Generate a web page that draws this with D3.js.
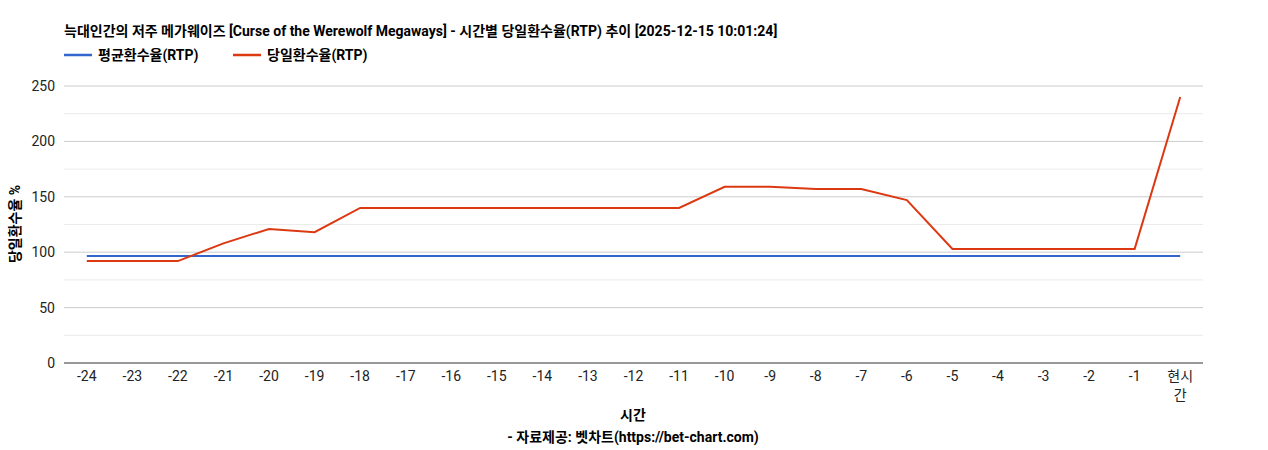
<!DOCTYPE html>
<html><head><meta charset="utf-8">
<script src="https://cdn.jsdelivr.net/npm/d3@7/dist/d3.min.js"></script>
<style>body{margin:0;background:#fff}svg{font-family:Roboto,"Noto Sans CJK KR",sans-serif}</style>
</head><body><svg id="c" width="1268" height="450"></svg>
<script>
const categories=["-24","-23","-22","-21","-20","-19","-18","-17","-16","-15","-14","-13","-12","-11","-10","-9","-8","-7","-6","-5","-4","-3","-2","-1","현시간"];
const avgRTP=[96.5,96.5,96.5,96.5,96.5,96.5,96.5,96.5,96.5,96.5,96.5,96.5,96.5,96.5,96.5,96.5,96.5,96.5,96.5,96.5,96.5,96.5,96.5,96.5,96.5];
const dayRTP=[92,92,92,108,121,118,140,140,140,140,140,140,140,140,159,159,157,157,147,103,103,103,103,103,240];
const yTicks=[0,50,100,150,200,250];
const svg=d3.select("#c"),L=64,R=1203,T=86,B=363;
const x=d3.scaleBand().domain(categories).range([L,R]);
const y=d3.scaleLinear().domain([0,250]).range([B,T]);
const g=svg.append("g");
d3.range(0,251,25).forEach(v=>{if(v===0)return;g.append("line").attr("x1",L).attr("x2",R).attr("y1",y(v)).attr("y2",y(v)).attr("stroke",v%50?"#ebebeb":"#cccccc");});
yTicks.forEach(v=>g.append("text").attr("x",L-9).attr("y",y(v)+5).attr("text-anchor","end").attr("font-size",14).attr("fill","#222").text(v));
g.append("line").attr("x1",L).attr("x2",R).attr("y1",B).attr("y2",B).attr("stroke","#333");
categories.forEach(c=>{const cx=x(c)+x.bandwidth()/2;
 if(c==="현시간"){g.append("text").attr("x",cx).attr("y",381).attr("text-anchor","middle").attr("font-size",14).attr("fill","#222").text("현시");g.append("text").attr("x",cx).attr("y",400).attr("text-anchor","middle").attr("font-size",14).attr("fill","#222").text("간");}
 else g.append("text").attr("x",cx).attr("y",381).attr("text-anchor","middle").attr("font-size",14).attr("fill","#222").text(c);});
const line=d3.line().x((d,i)=>x(categories[i])+x.bandwidth()/2).y(d=>y(d));
g.append("path").datum(avgRTP).attr("d",line).attr("fill","none").attr("stroke","#3366cc").attr("stroke-width",2);
g.append("path").datum(dayRTP).attr("d",line).attr("fill","none").attr("stroke","#dc3912").attr("stroke-width",2);
svg.append("text").attr("x",64).attr("y",36).attr("font-size",14).attr("font-weight","bold").attr("fill","#000").text("늑대인간의 저주 메가웨이즈 [Curse of the Werewolf Megaways] - 시간별 당일환수율(RTP) 추이 [2025-12-15 10:01:24]");
[["평균환수율(RTP)","#3366cc",64],["당일환수율(RTP)","#dc3912",233]].forEach(([t,c,lx])=>{svg.append("line").attr("x1",lx).attr("x2",lx+28).attr("y1",55).attr("y2",55).attr("stroke",c).attr("stroke-width",2.5);svg.append("text").attr("x",lx+34).attr("y",60).attr("font-size",14).attr("font-weight","bold").text(t);});
svg.append("text").attr("transform","translate(20,224) rotate(-90)").attr("text-anchor","middle").attr("font-size",14).attr("font-weight","bold").text("당일환수율 %");
svg.append("text").attr("x",633).attr("y",420).attr("text-anchor","middle").attr("font-size",14).attr("font-weight","bold").text("시간");
svg.append("text").attr("x",633).attr("y",442).attr("text-anchor","middle").attr("font-size",14).attr("font-weight","bold").text("- 자료제공: 벳차트(https://bet-chart.com)");
</script></body></html>
